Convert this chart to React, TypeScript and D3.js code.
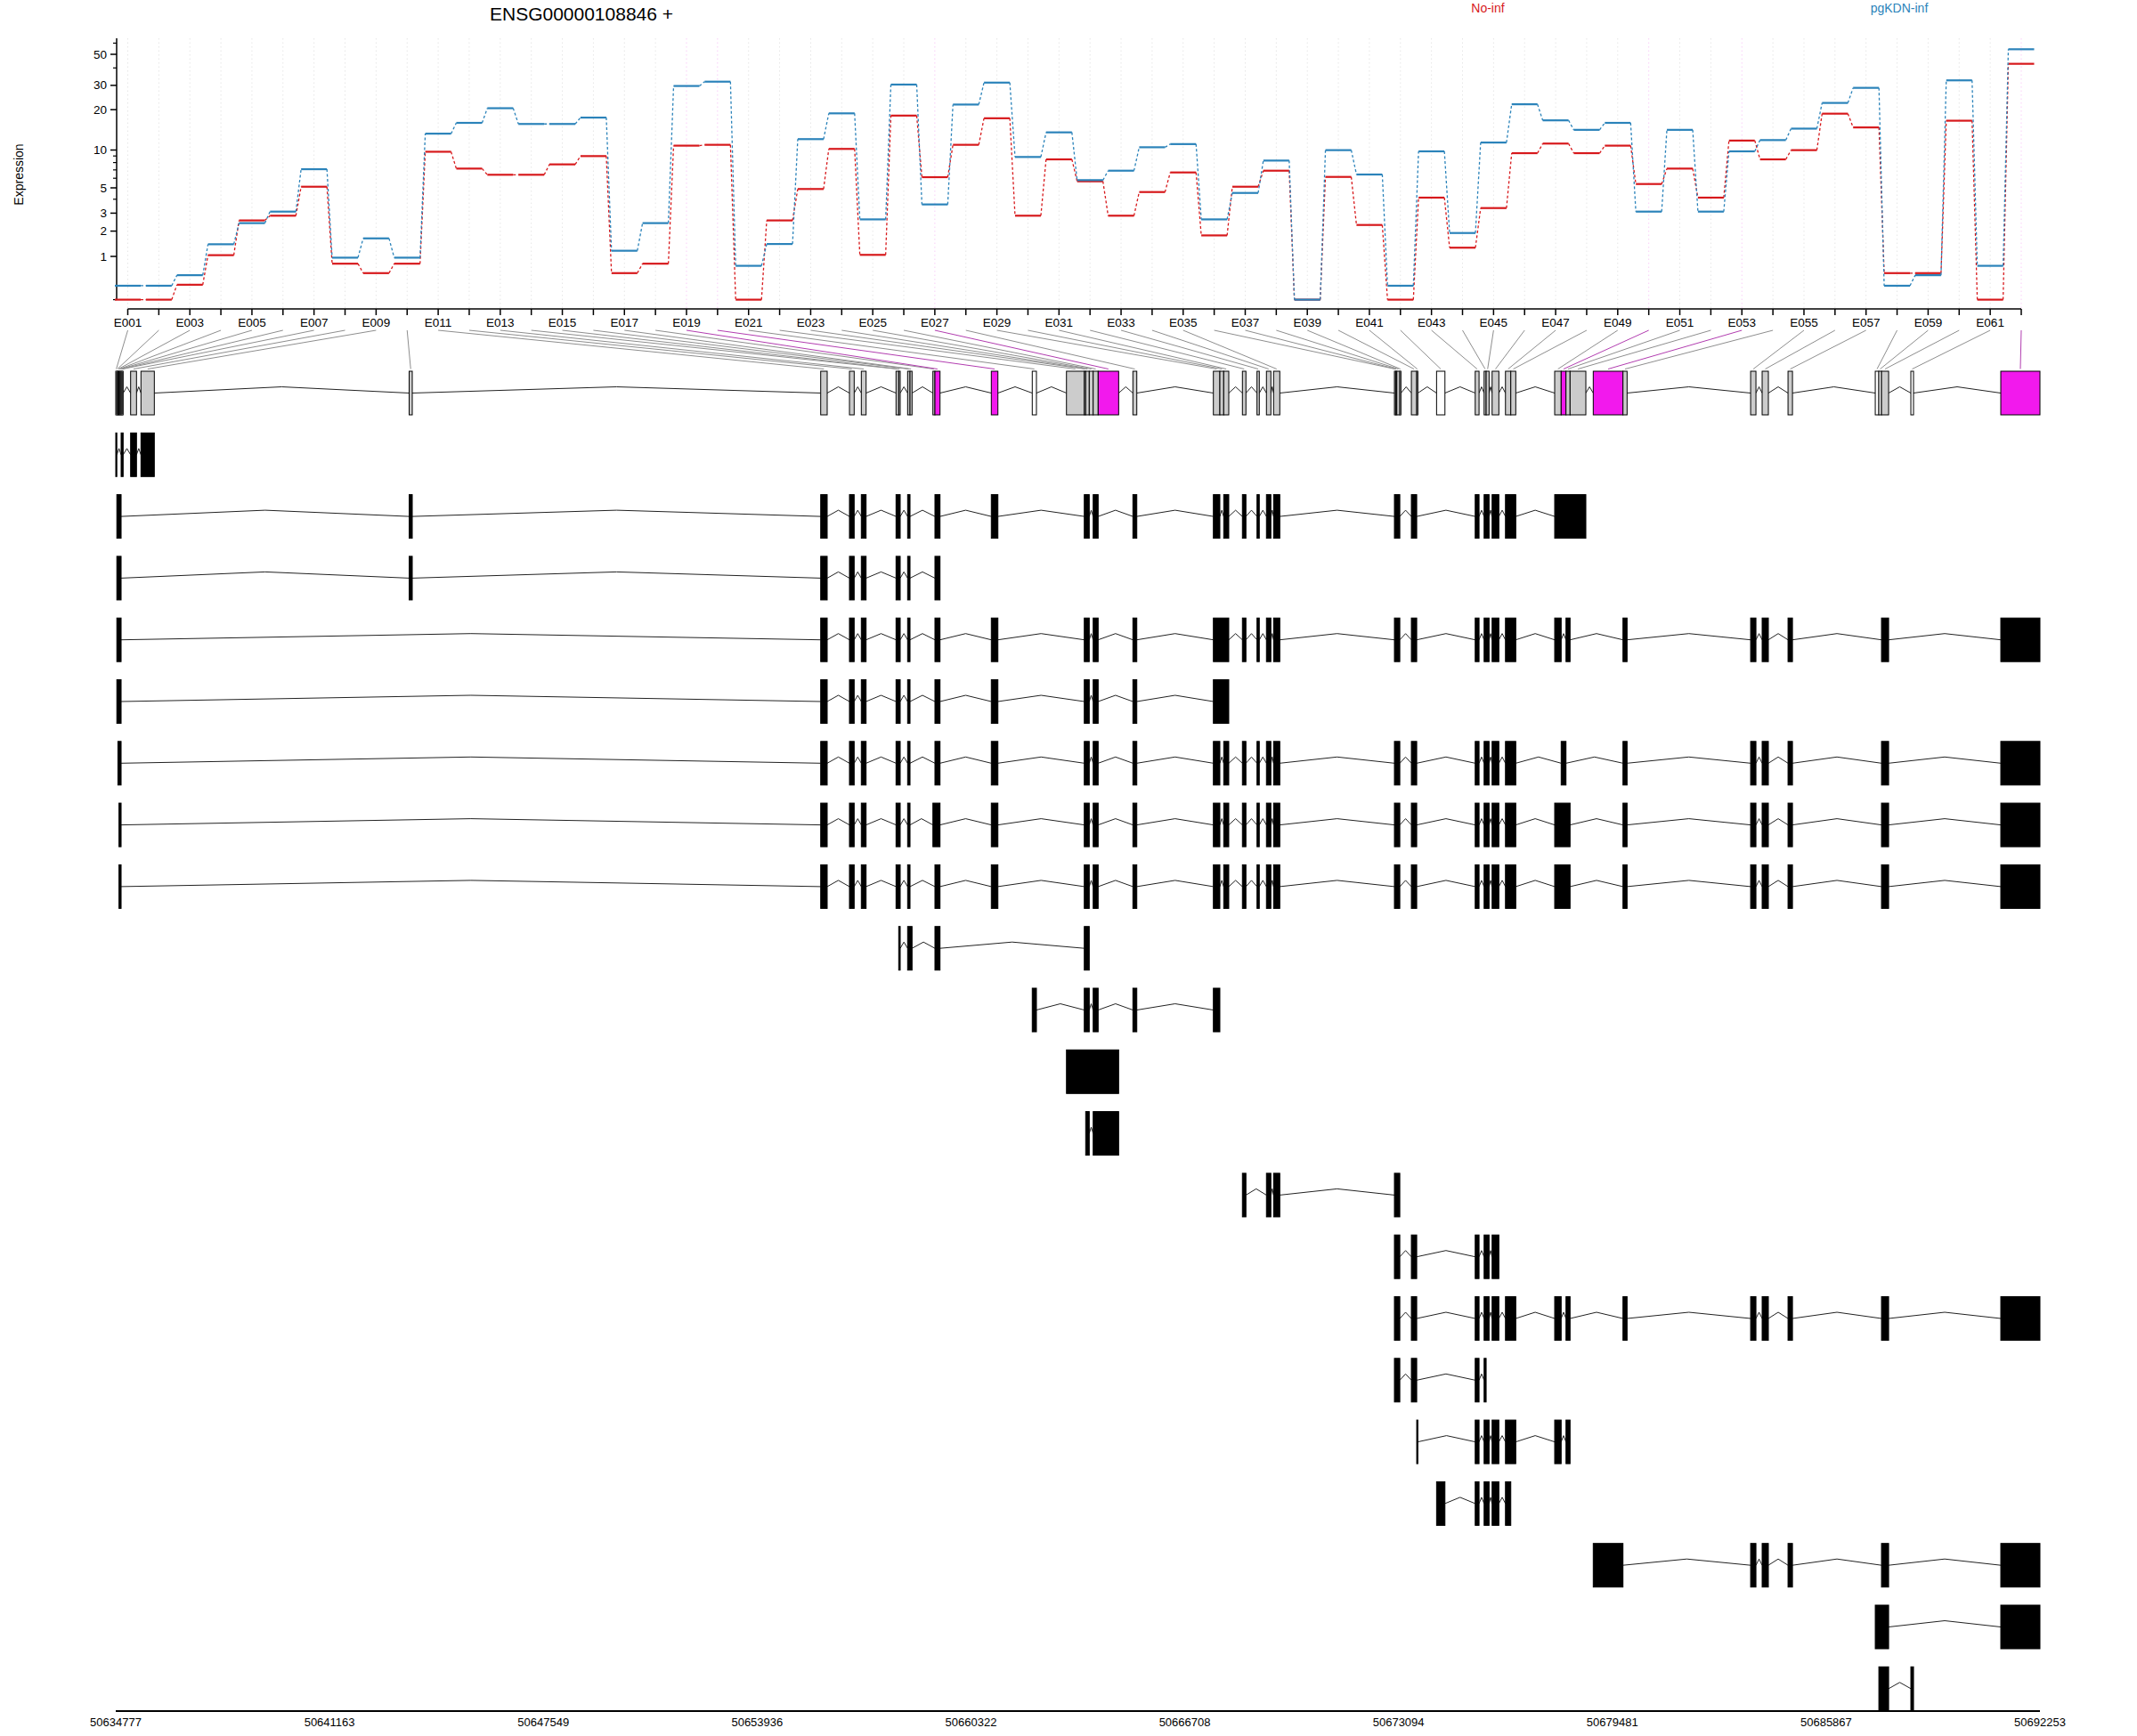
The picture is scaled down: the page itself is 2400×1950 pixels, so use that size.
import React from 'react';
import * as d3 from 'd3';

const GENE_TITLE = 'ENSG00000108846 +';
const GENE_START = 50634777;
const GENE_END = 50692253;
const conditions = ['No-inf', 'pgKDN-inf'];
const condColors = ['#D7191C', '#2B83BA'];

// Expression per exonic part (E001..E062)
const exprNoInf = [0, 0, 0.27, 1.04, 2.56, 2.84, 5.11, 0.78, 0.53, 0.78,
  9.7, 7.17, 6.4, 6.4, 7.74, 8.98, 0.53, 0.78, 10.8, 10.96,
  0, 2.56, 4.89, 10.2, 1.05, 18.1, 6.12, 10.96, 17.3, 2.84,
  8.47, 5.66, 2.84, 4.61, 6.68, 1.8, 5.11, 6.9, 0, 6.15,
  2.31, 0, 4.13, 1.3, 3.34, 9.46, 11.2, 9.46, 10.8, 5.38,
  7.17, 4.13, 11.8, 8.47, 9.98, 18.7, 14.8, 0.53, 0.53, 16.6,
  0, 42.8];
const exprPgKDN = [0.25, 0.25, 0.48, 1.43, 2.41, 3.1, 7.09, 0.96, 1.67, 0.96,
  13.3, 16.0, 20.5, 15.7, 15.7, 17.5, 1.19, 2.41, 29.7, 31.9,
  0.72, 1.44, 12.1, 18.8, 2.62, 30.4, 3.6, 21.8, 31.4, 8.84,
  13.6, 5.79, 6.9, 10.5, 11.1, 2.62, 4.53, 8.29, 0, 9.98,
  6.43, 0.25, 9.77, 1.91, 11.4, 21.9, 16.7, 14.2, 16.0, 3.1,
  14.2, 3.1, 9.77, 11.9, 14.5, 22.4, 28.8, 0.25, 0.48, 32.6,
  0.72, 54.3];

const yMajorTicks = [1, 2, 3, 5, 10, 20, 30, 50];
const yMinorTicks = [0, 4, 6, 7, 8, 9, 40, 60];

// exonic part coordinates (offset from gene start, bp)
const partStartOff = [0, 32, 64, 96, 128, 160, 191, 444, 753, 8764,
  21057, 21916, 22270, 23307, 23387, 23653, 23725, 24408, 24469, 26153,
  27376, 28398, 28930, 28972, 29079, 29196, 29345, 30382, 32786, 32980,
  33095, 33653, 34089, 34371, 34584, 38194, 38229, 38266, 38355, 38700,
  38860, 39453, 40607, 40873, 40934, 41112, 41511, 41670, 42981, 43175,
  43319, 43441, 44133, 45021, 48834, 49178, 49951, 52557, 52664, 52743,
  53620, 56306];
const partEndOff = [32, 64, 96, 128, 160, 191, 221, 620, 1152, 8857,
  21251, 22057, 22413, 23387, 23432, 23725, 23786, 24469, 24621, 26350,
  27501, 28930, 28972, 29079, 29196, 29345, 29957, 30499, 32980, 33095,
  33246, 33759, 34158, 34504, 34770, 38229, 38266, 38355, 38389, 38860,
  38894, 39703, 40722, 40934, 41022, 41314, 41670, 41819, 43175, 43319,
  43441, 43912, 45021, 45144, 48993, 49364, 50084, 52664, 52743, 52956,
  53700, 57476];
const significantParts = [19, 20, 27, 50, 53, 62];
const untestedParts = [21, 39, 42, 58, 59, 61];

// transcripts: list of exons as [firstPart, lastPart]
const transcripts: number[][][] = [
  [[1, 1], [6, 7], [8, 8], [9, 9]],
  [[2, 5], [10, 10], [11, 11], [12, 12], [13, 13], [14, 15], [16, 16], [19, 19], [20, 20], [23, 24], [26, 26], [28, 28], [29, 29], [31, 31], [32, 32], [33, 33], [34, 34], [35, 35], [36, 38], [40, 40], [43, 43], [44, 45], [46, 46], [47, 48], [49, 52]],
  [[2, 5], [10, 10], [11, 11], [12, 12], [13, 13], [14, 15], [16, 16], [19, 19]],
  [[2, 5], [11, 11], [12, 12], [13, 13], [14, 15], [16, 16], [19, 19], [20, 20], [23, 24], [26, 26], [28, 28], [29, 31], [32, 32], [33, 33], [34, 34], [35, 35], [36, 38], [40, 40], [43, 43], [44, 45], [46, 46], [47, 48], [49, 49], [51, 51], [54, 54], [55, 55], [56, 56], [57, 57], [60, 60], [62, 62]],
  [[2, 5], [11, 11], [12, 12], [13, 13], [14, 15], [16, 16], [19, 19], [20, 20], [23, 24], [26, 26], [28, 28], [29, 31]],
  [[3, 5], [11, 11], [12, 12], [13, 13], [14, 15], [16, 16], [19, 19], [20, 20], [23, 24], [26, 26], [28, 28], [29, 29], [31, 31], [32, 32], [33, 33], [34, 34], [35, 35], [36, 38], [40, 40], [43, 43], [44, 45], [46, 46], [47, 48], [50, 50], [54, 54], [55, 55], [56, 56], [57, 57], [60, 60], [62, 62]],
  [[4, 5], [11, 11], [12, 12], [13, 13], [14, 15], [16, 16], [18, 19], [20, 20], [23, 24], [26, 26], [28, 28], [29, 29], [31, 31], [32, 32], [33, 33], [34, 34], [35, 35], [36, 38], [40, 40], [43, 43], [44, 45], [46, 46], [47, 48], [49, 51], [54, 54], [55, 55], [56, 56], [57, 57], [60, 60], [62, 62]],
  [[4, 5], [11, 11], [12, 12], [13, 13], [14, 15], [16, 16], [19, 19], [20, 20], [23, 24], [26, 26], [28, 28], [29, 29], [31, 31], [32, 32], [33, 33], [34, 34], [35, 35], [36, 38], [40, 40], [43, 43], [44, 45], [46, 46], [47, 48], [49, 51], [54, 54], [55, 55], [56, 56], [57, 57], [60, 60], [62, 62]],
  [[15, 15], [16, 17], [19, 19], [23, 24]],
  [[21, 21], [23, 24], [26, 26], [28, 28], [29, 29]],
  [[22, 27]],
  [[24, 24], [26, 27]],
  [[32, 32], [34, 34], [35, 35], [36, 38]],
  [[36, 38], [40, 40], [43, 43], [44, 45], [46, 46]],
  [[36, 38], [40, 40], [43, 43], [44, 45], [46, 46], [47, 48], [49, 49], [51, 51], [54, 54], [55, 55], [56, 56], [57, 57], [60, 60], [62, 62]],
  [[36, 38], [40, 40], [43, 43], [44, 44]],
  [[41, 41], [43, 43], [44, 45], [46, 46], [47, 48], [49, 49], [51, 51]],
  [[42, 42], [43, 43], [44, 45], [46, 46], [47, 47]],
  [[53, 53], [55, 55], [56, 56], [57, 57], [60, 60], [62, 62]],
  [[58, 60], [62, 62]],
  [[59, 60], [61, 61]],
];

const genomeTickLabels = ['50634777', '50641163', '50647549', '50653936', '50660322',
  '50666708', '50673094', '50679481', '50685867', '50692253'];

const FONT = 'Liberation Sans, Arial, Helvetica, sans-serif';

export default function App() {
  const W = 2400, H = 1950;
  const nEx = exprNoInf.length;
  const exonLabels = d3.range(1, nEx + 1).map((i) => 'E' + String(i).padStart(3, '0'));
  const xEx = d3.scaleLinear().domain([1, nEx]).range([143.5, 2270]);
  const yEx = d3.scaleLinear().domain([0, Math.log10(51)]).range([336.6, 61]);
  const yv = (v: number) => yEx(Math.log10(v + 1));
  const xG = d3.scaleLinear().domain([GENE_START, GENE_END]).range([130, 2291]);
  const ps = (i: number) => xG(GENE_START + partStartOff[i - 1]);
  const pe = (i: number) => xG(GENE_START + partEndOff[i - 1]);
  const hw = 14.5;
  const series = [exprNoInf, exprPgKDN];
  const sig = new Set(significantParts);
  const na = new Set(untestedParts);

  const modelTop = 417, boxH = 49, rowStep = 69.3, peak = 7;

  const intronPath = (x1: number, x2: number, mid: number) =>
    `M${x1},${mid}L${(x1 + x2) / 2},${mid - peak}L${x2},${mid}`;

  const genomeTicks = genomeTickLabels.map((l) => +l);

  return (
    <svg width={W} height={H} style={{ position: 'absolute', left: 0, top: 0, background: '#fff' }} fontFamily={FONT}>
      <rect x={0} y={0} width={W} height={H} fill="#fff" />
      {/* title & legend */}
      <text x={653} y={15} fontSize={21} textAnchor="middle" dominantBaseline="central">{GENE_TITLE}</text>
      <text x={1671} y={9} fontSize={14} textAnchor="middle" dominantBaseline="central" fill={condColors[0]}>{conditions[0]}</text>
      <text x={2133} y={9} fontSize={14} textAnchor="middle" dominantBaseline="central" fill={condColors[1]}>{conditions[1]}</text>
      <text transform="translate(21,196) rotate(-90)" fontSize={14} textAnchor="middle" dominantBaseline="central">Expression</text>

      {/* vertical grid */}
      {exonLabels.map((_, i) => (
        <line key={'g' + i} x1={xEx(i + 1)} x2={xEx(i + 1)} y1={43} y2={347}
          stroke={sig.has(i + 1) ? '#F9CFF8' : '#E6E6E6'} strokeWidth={1} strokeDasharray="1.5,3" />
      ))}

      {/* y axis */}
      <line x1={131} x2={131} y1={yv(0)} y2={43} stroke="#000" strokeWidth={1.5} />
      {yMajorTicks.map((t) => (
        <g key={'yt' + t}>
          <line x1={124} x2={131} y1={yv(t)} y2={yv(t)} stroke="#000" strokeWidth={1.5} />
          <text x={120} y={yv(t)} fontSize={13.5} textAnchor="end" dominantBaseline="central">{t}</text>
        </g>
      ))}
      {yMinorTicks.map((t) => (
        <line key={'ym' + t} x1={127} x2={131} y1={yv(t)} y2={yv(t)} stroke="#000" strokeWidth={1.2} />
      ))}

      {/* expression lines */}
      {series.map((vals, s) => (
        <g key={'s' + s} stroke={condColors[s]}>
          {vals.map((v, i) => (
            <line key={'h' + i} x1={xEx(i + 1) - hw} x2={xEx(i + 1) + hw} y1={yv(v)} y2={yv(v)} strokeWidth={2.2} />
          ))}
          {vals.slice(0, -1).map((v, i) => (
            <line key={'c' + i} x1={xEx(i + 1) + hw} x2={xEx(i + 2) - hw} y1={yv(v)} y2={yv(vals[i + 1])}
              strokeWidth={1.3} strokeDasharray="3,2.5" />
          ))}
        </g>
      ))}

      {/* exon x axis */}
      <line x1={xEx(1)} x2={xEx(nEx)} y1={347} y2={347} stroke="#000" strokeWidth={1.5} />
      {exonLabels.map((l, i) => (
        <g key={'xt' + i}>
          <line x1={xEx(i + 1)} x2={xEx(i + 1)} y1={347} y2={354} stroke="#000" strokeWidth={1.5} />
          {i % 2 === 0 && (
            <text x={xEx(i + 1)} y={362} fontSize={13.5} textAnchor="middle" dominantBaseline="central">{l}</text>
          )}
        </g>
      ))}

      {/* mapping lines */}
      {exonLabels.map((_, i) => (
        <line key={'m' + i} x1={xEx(i + 1)} y1={371} x2={(ps(i + 1) + pe(i + 1)) / 2} y2={414.5}
          stroke={sig.has(i + 1) ? '#B23DB0' : '#8E8E8E'} strokeWidth={1} />
      ))}

      {/* gene model */}
      <g>
        {partStartOff.slice(1).map((_, j) => {
          const a = pe(j + 1), b = ps(j + 2);
          if (b - a < 0.5) return null;
          return <path key={'gi' + j} d={intronPath(a, b, modelTop + boxH / 2)} fill="none" stroke="#222" strokeWidth={1} />;
        })}
        {partStartOff.map((_, j) => (
          <rect key={'gp' + j} x={ps(j + 1)} y={modelTop} width={Math.max(pe(j + 1) - ps(j + 1), 0.5)} height={boxH}
            fill={sig.has(j + 1) ? '#F219ED' : na.has(j + 1) ? '#FFFFFF' : '#CCCCCC'} stroke="#000" strokeWidth={1} />
        ))}
      </g>

      {/* transcripts */}
      {transcripts.map((tx, k) => {
        const top = modelTop + rowStep * (k + 1);
        const mid = top + boxH / 2;
        return (
          <g key={'t' + k}>
            {tx.slice(1).map((ex, j) => (
              <path key={'ti' + j} d={intronPath(pe(tx[j][1]), ps(ex[0]), mid)} fill="none" stroke="#222" strokeWidth={1} />
            ))}
            {tx.map((ex, j) => (
              <rect key={'te' + j} x={ps(ex[0])} y={top} width={Math.max(pe(ex[1]) - ps(ex[0]), 1)} height={boxH}
                fill="#000" stroke="#000" strokeWidth={1} />
            ))}
          </g>
        );
      })}

      {/* genome axis */}
      <line x1={xG(GENE_START)} x2={xG(GENE_END)} y1={1922} y2={1922} stroke="#000" strokeWidth={2} />
      {genomeTicks.map((t, i) => (
        <text key={'gt' + i} x={xG(t)} y={1934} fontSize={13} textAnchor="middle" dominantBaseline="central">{genomeTickLabels[i]}</text>
      ))}
    </svg>
  );
}
